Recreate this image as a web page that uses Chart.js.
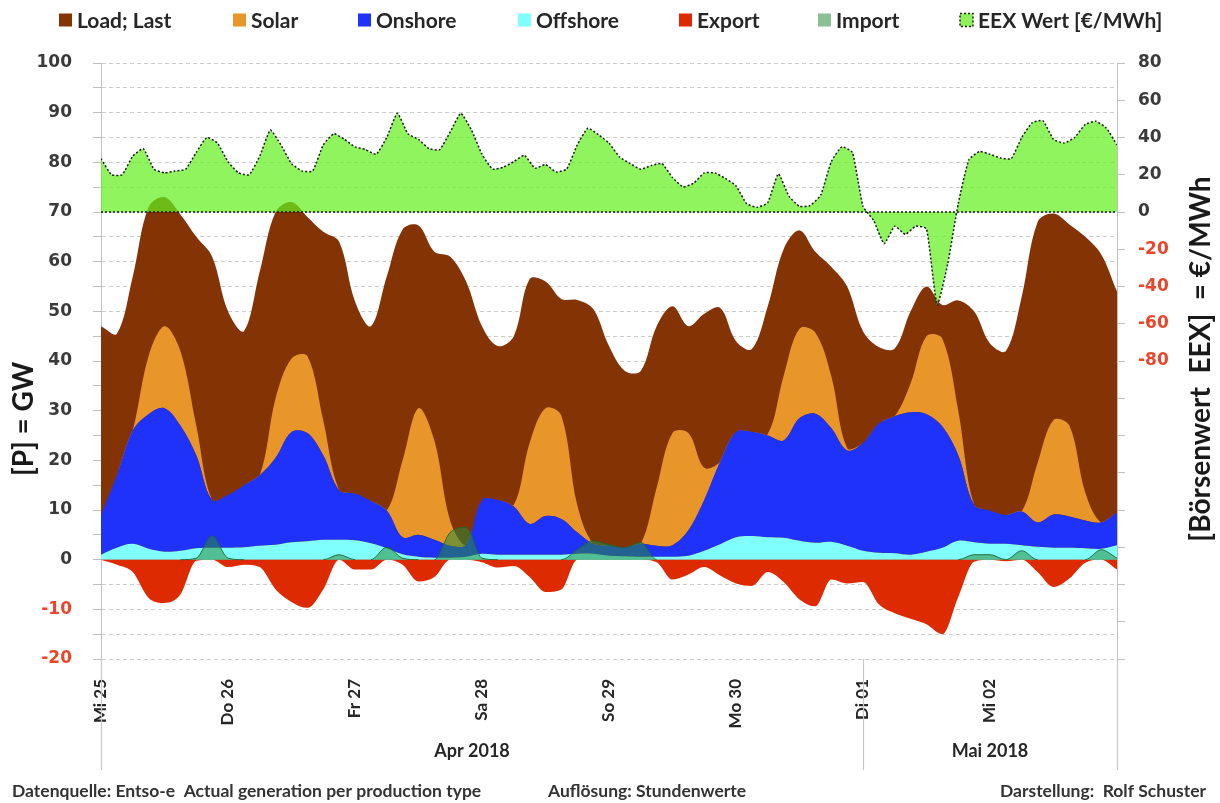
<!DOCTYPE html>
<html>
<head>
<meta charset="utf-8">
<script src="https://cdn.jsdelivr.net/npm/chart.js@4.4.1/dist/chart.umd.min.js"></script>
<style>
html,body{margin:0;padding:0;background:#ffffff;}
#wrap{width:1220px;height:803px;position:relative;}
</style>
</head>
<body>
<div id="wrap"><canvas id="c" width="1220" height="803"></canvas></div>
<script>
// ---------- data ----------
const dayLabels = ['Mi 25','Do 26','Fr 27','Sa 28','So 29','Mo 30','Di 01','Mi 02'];
const monthLabels = ['Apr 2018','Mai 2018'];
const monthStartDays = [0, 6, 8];
const genStepHours = 3;     // generation / load series: one value every 3 h
const priceStepHours = 2;   // EEX price: one value every 2 h

const load = [47,45.5,57,71,73,69.5,65,61,50,46,58,70,72,69,66,64,52,
  47,57,66.5,67.3,62,61,56,47,43,45,56.5,56,52.5,52.3,50.5,43,
  38,38,47,51,47,49.5,50.7,44,42.4,51,62.5,66.3,62,59,55,46,
  42.8,42.5,50,55,51.3,52.2,50,43.5,42,53,68,69.7,67.5,65,61.5,54];

const offshore = [1,2.4,3.2,2.2,1.6,1.8,2.3,2.4,2.4,2.5,2.8,3,3.5,3.7,4,4,3.9,
  3.3,2.3,1.1,0.6,0.4,0.4,0.6,1.2,1,1,1,1,1,1.2,1.2,0.8,
  0.7,0.6,0.6,0.6,0.8,1.8,3.1,4.5,4.75,4.5,4.4,3.8,3.4,3.6,2.8,1.8,
  1.4,1.3,1,1.6,2.4,3.8,3.5,3.2,3.2,2.9,2.6,2.4,2.4,2.3,2.2,2.9];

const onshore = [8,14.6,22.8,27.1,28.9,25.2,18.7,9.6,10.6,12.5,14.2,17.5,22.2,21.8,17,10,9.4,
  8.5,7.6,3.4,4.4,3.6,2.4,2.4,10.8,11,9.7,6.2,7.8,7.2,4.3,2,2,
  1.8,2.6,2.2,2.3,5.1,10.2,16.6,21.2,21,20.5,19.6,24.7,26,22.9,19.2,21.7,
  26,27.6,28.7,27.7,24.4,17.2,7.5,6.7,5.8,6.8,4.9,6.7,6.3,5.6,5.3,6.6];

const solar = [0,0,0,11.7,16.5,15,6,0,0,0,0,12,14.8,15.5,7,0,0,
  0,0,15.5,25.5,20,5,0,0,0,0.3,16.3,21.7,20.8,5.5,0,0,
  0,0,11.7,22.6,19.6,6.5,0,0,0,0.3,13,18,16.3,10.5,0.5,0,
  0,0,5.8,15.7,17.7,9,0,0,0,0,12,19,18.3,5.6,0,0];

const exportGW = [0,-1,-2.5,-7.7,-8.7,-7,-0.2,0,-1.5,-1,-1.5,-6,-8.5,-9.7,-6,0,-2,
  -2,0,-1,-4.4,-3.5,0,0,-0.5,-1.6,-1.3,-3.5,-6.5,-6,0,0,0,
  0,0,-0.5,-4,-3,-1.5,-3.2,-4.8,-5.3,-2.5,-4.5,-8,-9.4,-4,-4.8,-4.5,
  -9,-10.8,-11.9,-13,-15,-7.5,-0.4,0,-0.3,0,-2.5,-5.5,-3.8,-0.6,0,-2];

const importGW = [0,0,0,0,0,0,0.3,4.8,0.3,0,0,0,0,0,0,1,0,
  0,2.5,0.3,0,0,5.5,6.5,0.3,0,0,0,0,0,2,3.8,3,
  2.4,3.5,0,0,0,0,0,0,0,0,0,0,0,0,0,0,
  0,0,0,0,0,0,1,1,0,1.8,0,0,0,0,2,0.3];

const eex = [28.6,20,20,30,34,23,21,22,23,32,40,37,27,21,20,30,44,36,26,22,22,36,42,39,35,
  33.5,31,40,53,42,39,34,33.5,43,53,44,31,23,24,27,30.5,23.5,25.5,21.5,23,36,45,41.5,37,
  29.5,26,23,25,26,18.5,13.5,15.5,21,21,18,14,4.5,2.5,5,20.5,8.5,3,3.5,9,27,35,32,3,
  -4.5,-17,-7.6,-12,-7.6,-9,-50,-28,4.5,28,32.5,31,29,28.6,40,48,49,39,37,40,47,48.7,45,36];

const leftTicksGW = {min: -20, max: 100, step: 5, labelEvery: 10};
const rightTicksEUR = {min: -240, max: 80, step: 20, labelFrom: -80};

// ---------- helpers ----------
const toPts = (arr, step) => arr.map((v, i) => ({x: i * step, y: v}));
const LATO = 'Lato, "Open Sans", sans-serif';
const NUMF = '"DejaVu Sans", Verdana, sans-serif';
const RED = '#E8472C';

const legendOrder = ['Load; Last','Solar','Onshore','Offshore','Export','Import','EEX Wert [€/MWh]'];
const legendBoxX = [59, 233, 358, 518, 679, 818, 960];

const overlay = {
  id: 'overlay',
  afterDatasetsDraw(chart) {
    const {ctx, chartArea} = chart;
    const y0 = chart.scales.y2.getPixelForValue(0);
    ctx.save();
    ctx.strokeStyle = '#1a1a1a';
    ctx.lineWidth = 1.5;
    ctx.setLineDash([2, 2]);
    ctx.beginPath();
    ctx.moveTo(chartArea.left, y0);
    ctx.lineTo(chartArea.right, y0);
    ctx.stroke();
    ctx.restore();
  },
  afterDraw(chart) {
    const {ctx, chartArea} = chart;
    const xs = chart.scales.x;
    ctx.save();
    // category separators below the plot
    ctx.strokeStyle = '#c8c8c8';
    ctx.lineWidth = 1.2;
    monthStartDays.forEach(d => {
      const px = Math.round(xs.getPixelForValue(d * 24)) + 0.5;
      ctx.beginPath();
      ctx.moveTo(px, chartArea.bottom);
      ctx.lineTo(px, 770);
      ctx.stroke();
    });
    // month labels
    ctx.fillStyle = '#262626';
    ctx.font = 'bold 18px ' + LATO;
    ctx.textAlign = 'center';
    ctx.textBaseline = 'middle';
    monthLabels.forEach((m, i) => {
      const a = xs.getPixelForValue(monthStartDays[i] * 24);
      const b = xs.getPixelForValue(monthStartDays[i + 1] * 24);
      ctx.fillText(m, i === 0 ? (a + b) / 2 - 10 : (a + b) / 2, 751);
    });
    // footer
    ctx.font = 'bold 17.5px ' + LATO;
    ctx.fillStyle = '#333333';
    ctx.textAlign = 'left';
    ctx.fillText('Datenquelle: Entso-e  Actual generation per production type', 12, 791);
    ctx.fillText('Auflösung: Stundenwerte', 548, 791);
    ctx.textAlign = 'right';
    ctx.fillText('Darstellung:  Rolf Schuster', 1206, 791);
    // axis titles
    ctx.font = 'bold 28px ' + LATO;
    ctx.fillStyle = '#1a1a1a';
    ctx.textAlign = 'center';
    ctx.save();
    ctx.translate(24, 419);
    ctx.rotate(-Math.PI / 2);
    ctx.fillText('[P] = GW', 0, 0);
    ctx.restore();
    ctx.save();
    ctx.translate(1201, 359);
    ctx.rotate(-Math.PI / 2);
    ctx.fillText('[Börsenwert  EEX]  = €/MWh', 0, 0);
    ctx.restore();
    // legend
    const ds = chart.data.datasets;
    ctx.font = 'bold 21px ' + LATO;
    ctx.textAlign = 'left';
    const box = 13, gapBT = 5;
    const cy = 20;
    legendOrder.forEach((l, i) => {
      const d = ds.find(s => s.label === l);
      const x = legendBoxX[i];
      ctx.fillStyle = d.legendColor || d.backgroundColor;
      ctx.fillRect(x, cy - box / 2, box, box);
      if (d.borderDash) {
        ctx.save();
        ctx.strokeStyle = '#1a1a1a';
        ctx.lineWidth = 1.5;
        ctx.setLineDash([2, 2]);
        ctx.strokeRect(x, cy - box / 2, box, box);
        ctx.restore();
      }
      ctx.fillStyle = '#262626';
      ctx.fillText(d.label, x + box + gapBT, cy + 1);
    });
    ctx.restore();
  }
};

const IMPORT_LINE = 'rgba(30,100,50,0.9)';
const SMOOTH = 0.35;

const datasets = [
  {label: 'Import', data: toPts(importGW, genStepHours), stack: 'imp', fill: 'origin',
   backgroundColor: 'rgba(40,140,60,0.55)', legendColor: 'rgba(40,140,60,0.55)',
   borderColor: IMPORT_LINE, borderWidth: 1,
   segment: {borderColor: c => (c.p0.parsed.y === 0 && c.p1.parsed.y === 0) ? 'rgba(0,0,0,0)' : IMPORT_LINE},
   cubicInterpolationMode: 'monotone'},
  {label: 'EEX Wert [€/MWh]', data: toPts(eex, priceStepHours), yAxisID: 'y2', fill: 'origin',
   backgroundColor: 'rgba(100,240,30,0.72)', legendColor: '#8ef25a',
   borderColor: '#1a1a1a', borderWidth: 1.5, borderDash: [2, 2], tension: 0.15},
  {label: 'Export', data: toPts(exportGW, genStepHours), stack: 'exp', fill: 'origin',
   backgroundColor: '#DD2A00', borderWidth: 0, cubicInterpolationMode: 'monotone'},
  {label: 'Offshore', data: toPts(offshore, genStepHours), stack: 'gen', fill: 'origin',
   backgroundColor: '#80FFFF', borderWidth: 0, tension: SMOOTH},
  {label: 'Onshore', data: toPts(onshore, genStepHours), stack: 'gen', fill: '-1',
   backgroundColor: '#1E32FA', borderWidth: 0, tension: SMOOTH},
  {label: 'Solar', data: toPts(solar, genStepHours), stack: 'gen', fill: '-1',
   backgroundColor: '#E8962A', borderWidth: 0, tension: SMOOTH},
  {label: 'Load; Last', data: toPts(load, genStepHours), stack: 'load', fill: 'origin',
   backgroundColor: '#843404', borderWidth: 0, tension: SMOOTH}
];
datasets.forEach(d => { d.pointRadius = 0; d.pointHoverRadius = 0; });

new Chart(document.getElementById('c'), {
  type: 'line',
  data: {datasets},
  plugins: [overlay],
  options: {
    responsive: false,
    animation: false,
    events: [],
    layout: {padding: {top: 63, left: 0, right: 0, bottom: 0}},
    plugins: {legend: {display: false}, tooltip: {enabled: false}},
    scales: {
      x: {
        type: 'linear', min: 0, max: dayLabels.length * 24,
        grid: {display: false}, border: {display: false},
        ticks: {
          stepSize: 24, autoSkip: false, maxRotation: 90, minRotation: 90, padding: 12,
          font: {family: LATO, weight: 'bold', size: 17}, color: '#262626',
          callback: v => dayLabels[v / 24] ?? ''
        },
        afterFit: s => { s.height = 144; }
      },
      y: {
        position: 'left', stacked: true,
        min: leftTicksGW.min, max: leftTicksGW.max,
        grid: {color: '#cdcdcd', lineWidth: 1, tickLength: 8, tickColor: '#bfbfbf'},
        border: {display: true, color: '#bfbfbf', width: 1, dash: [4, 3]},
        ticks: {
          stepSize: leftTicksGW.step, padding: 21,
          font: {family: NUMF, weight: 'bold', size: 17},
          color: c => c.tick.value < 0 ? RED : '#3a3a3a',
          callback: v => (v % leftTicksGW.labelEvery === 0) ? String(v) : ''
        },
        afterFit: s => { s.width = 101; }
      },
      y2: {
        position: 'right',
        min: rightTicksEUR.min, max: rightTicksEUR.max,
        grid: {drawOnChartArea: false, tickLength: 8, color: '#bfbfbf', tickColor: '#bfbfbf'},
        border: {display: true, color: '#bfbfbf', width: 1},
        ticks: {
          stepSize: rightTicksEUR.step, padding: 13,
          font: {family: NUMF, weight: 'bold', size: 17},
          color: c => c.tick.value < 0 ? RED : '#3a3a3a',
          callback: v => (v >= rightTicksEUR.labelFrom) ? String(v) : ''
        },
        afterFit: s => { s.width = 103; }
      }
    }
  }
});
</script>
</body>
</html>
